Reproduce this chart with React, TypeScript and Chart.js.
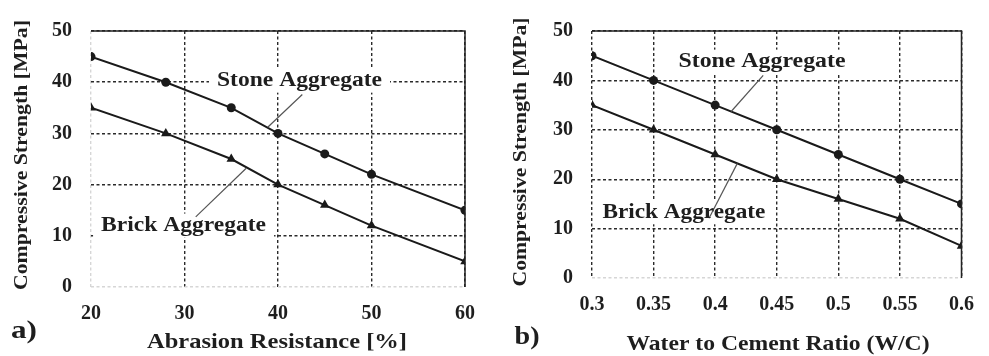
import React, { useEffect, useRef } from "react";
import { Chart, registerables } from "chart.js";

Chart.register(...registerables);

// ---- data ----
const abrasionResistance = [20, 28, 35, 40, 45, 50, 60];
const stoneByAbrasion = [45, 40, 35, 30, 26, 22, 15];
const brickByAbrasion = [35, 30, 25, 20, 16, 12, 5];

const waterCementRatio = [0.3, 0.35, 0.4, 0.45, 0.5, 0.55, 0.6];
const stoneByWC = [45, 40, 35, 30, 25, 20, 15];
const brickByWC = [35, 30, 25, 20, 16, 12, 6.5];

const yTitle = "Compressive Strength [MPa]";
const xTitleA = "Abrasion Resistance [%]";
const xTitleB = "Water to Cement Ratio (W/C)";
const seriesNames = ["Stone Aggregate", "Brick Aggregate"];

type Note = { text: string; x: number; y: number; w: number; from: [number, number]; to: [number, number] };

const notesA: Note[] = [
  { text: seriesNames[0], x: 42.3, y: 40.3, w: 165, from: [42.6, 37.6], to: [38.9, 31.2] },
  { text: seriesNames[1], x: 29.9, y: 12.0, w: 165, from: [31.2, 13.7], to: [36.6, 23.2] },
];
const notesB: Note[] = [
  { text: seriesNames[0], x: 0.438, y: 43.8, w: 167, from: [0.439, 41.0], to: [0.413, 33.7] },
  { text: seriesNames[1], x: 0.3746, y: 13.3, w: 163, from: [0.395, 12.1], to: [0.418, 23.2] },
];

const FONT = '"Liberation Serif", "Times New Roman", serif';

function drawStretched(
  ctx: CanvasRenderingContext2D,
  text: string,
  cx: number,
  cy: number,
  width: number,
  size: number,
  rot = 0
) {
  ctx.save();
  ctx.font = `bold ${size}px ${FONT}`;
  const m = ctx.measureText(text).width;
  ctx.translate(cx, cy);
  if (rot) ctx.rotate(rot);
  ctx.scale(width / m, 1);
  ctx.textAlign = "center";
  ctx.textBaseline = "middle";
  ctx.fillStyle = "#1e1e1e";
  ctx.fillText(text, 0, 0);
  ctx.restore();
}

type PanelProps = {
  left: number;
  width: number;
  xs: number[];
  stone: number[];
  brick: number[];
  xMin: number;
  xMax: number;
  xStep: number;
  yAxisW: number;
  xAxisH: number;
  padTop: number;
  padRight: number;
  xTickPad: number;
  lightLeft: boolean;
  xTitle: string;
  xTitlePos: [number, number, number];
  yTitlePos: [number, number, number];
  letter: string;
  letterPos: [number, number, number];
  notes: Note[];
};

function Panel(p: PanelProps) {
  const ref = useRef<HTMLCanvasElement | null>(null);
  useEffect(() => {
    if (!ref.current) return;
    const annot = {
      id: "annot",
      beforeDatasetsDraw(chart: any) {
        const ctx = chart.ctx as CanvasRenderingContext2D;
        const sx = chart.scales.x;
        const sy = chart.scales.y;
        ctx.save();
        ctx.fillStyle = "#ffffff";
        for (const n of p.notes) {
          const cx = sx.getPixelForValue(n.x);
          const cy = sy.getPixelForValue(n.y);
          ctx.fillRect(cx - n.w / 2 - 8, cy - 12, n.w + 16, 24);
        }
        ctx.restore();
      },
      afterDraw(chart: any) {
        const ctx = chart.ctx as CanvasRenderingContext2D;
        const a = chart.chartArea;
        const sx = chart.scales.x;
        const sy = chart.scales.y;
        ctx.save();
        ctx.strokeStyle = "#222";
        ctx.lineWidth = 1.5;
        ctx.beginPath();
        ctx.moveTo(a.left, a.top);
        ctx.lineTo(a.right, a.top);
        ctx.lineTo(a.right, a.bottom);
        ctx.stroke();
        ctx.strokeStyle = "#555";
        ctx.lineWidth = 1.2;
        for (const n of p.notes) {
          ctx.beginPath();
          ctx.moveTo(sx.getPixelForValue(n.from[0]), sy.getPixelForValue(n.from[1]));
          ctx.lineTo(sx.getPixelForValue(n.to[0]), sy.getPixelForValue(n.to[1]));
          ctx.stroke();
        }
        ctx.restore();
        for (const n of p.notes) {
          drawStretched(ctx, n.text, sx.getPixelForValue(n.x), sy.getPixelForValue(n.y), n.w, 21);
        }
        drawStretched(ctx, p.xTitle, p.xTitlePos[0], p.xTitlePos[1], p.xTitlePos[2], 21);
        drawStretched(ctx, yTitle, p.yTitlePos[0], p.yTitlePos[1], p.yTitlePos[2], 18, -Math.PI / 2);
        drawStretched(ctx, p.letter, p.letterPos[0], p.letterPos[1], p.letterPos[2], 25);
      },
    };
    const tickFont = { family: FONT, weight: "bold" as const, size: 20 };
    const chart = new Chart(ref.current, {
      type: "line",
      data: {
        datasets: [
          {
            label: seriesNames[0],
            data: p.xs.map((x, i) => ({ x, y: p.stone[i] })),
            borderColor: "#1a1a1a",
            backgroundColor: "#1a1a1a",
            borderWidth: 2,
            pointStyle: "circle",
            pointRadius: 4.5,
            pointBorderWidth: 0,
          },
          {
            label: seriesNames[1],
            data: p.xs.map((x, i) => ({ x, y: p.brick[i] })),
            borderColor: "#1a1a1a",
            backgroundColor: "#1a1a1a",
            borderWidth: 2,
            pointStyle: "triangle",
            pointRadius: 5.5,
            pointBorderWidth: 0,
          },
        ],
      },
      options: {
        animation: false,
        responsive: false,
        maintainAspectRatio: false,
        layout: { padding: { left: 0, right: p.padRight, top: p.padTop, bottom: 0 } },
        plugins: { legend: { display: false }, tooltip: { enabled: false } },
        scales: {
          x: {
            type: "linear",
            min: p.xMin,
            max: p.xMax,
            ticks: {
              stepSize: p.xStep,
              padding: p.xTickPad,
              color: "#1e1e1e",
              font: tickFont,
              callback: (v: any) => String(Math.round(Number(v) * 100) / 100),
            },
            grid: {
              drawTicks: false,
              lineWidth: 1.4,
              color: (c: any) =>
                p.lightLeft && c.tick && Math.abs(c.tick.value - p.xMin) < 1e-9 ? "#d6d6d6" : "#2a2a2a",
            },
            border: { display: false, dash: [3, 2.5] },
            afterFit: (s: any) => {
              s.height = p.xAxisH;
            },
          },
          y: {
            min: 0,
            max: 50,
            ticks: { stepSize: 10, padding: 19, color: "#1e1e1e", font: tickFont },
            grid: {
              drawTicks: false,
              lineWidth: 1.4,
              color: (c: any) => (c.tick && c.tick.value === 0 ? "#d6d6d6" : "#2a2a2a"),
            },
            border: { display: false, dash: [3, 2.5] },
            afterFit: (s: any) => {
              s.width = p.yAxisW;
            },
          },
        },
      },
      plugins: [annot],
    } as any);
    return () => chart.destroy();
  }, []);
  return (
    <canvas
      ref={ref}
      width={p.width}
      height={356}
      style={{ position: "absolute", left: p.left, top: 0, width: p.width, height: 356, display: "block" }}
    />
  );
}

export default function App() {
  return (
    <div style={{ position: "absolute", left: 0, top: 0, width: 989, height: 356, background: "#fff" }}>
      <Panel
        left={0}
        width={490}
        xs={abrasionResistance}
        stone={stoneByAbrasion}
        brick={brickByAbrasion}
        xMin={20}
        xMax={60}
        xStep={10}
        yAxisW={91}
        xAxisH={69}
        padTop={16}
        padRight={21}
        xTickPad={15}
        lightLeft={true}
        xTitle={xTitleA}
        xTitlePos={[277, 343, 260]}
        yTitlePos={[22, 155, 270]}
        letter="a)"
        letterPos={[24, 332, 26]}
        notes={notesA}
      />
      <Panel
        left={495}
        width={494}
        xs={waterCementRatio}
        stone={stoneByWC}
        brick={brickByWC}
        xMin={0.3}
        xMax={0.6}
        xStep={0.05}
        yAxisW={97}
        xAxisH={78}
        padTop={18}
        padRight={17}
        xTickPad={15}
        lightLeft={false}
        xTitle={xTitleB}
        xTitlePos={[283, 345, 303]}
        yTitlePos={[26, 152, 269]}
        letter="b)"
        letterPos={[32, 338, 25]}
        notes={notesB}
      />
    </div>
  );
}
